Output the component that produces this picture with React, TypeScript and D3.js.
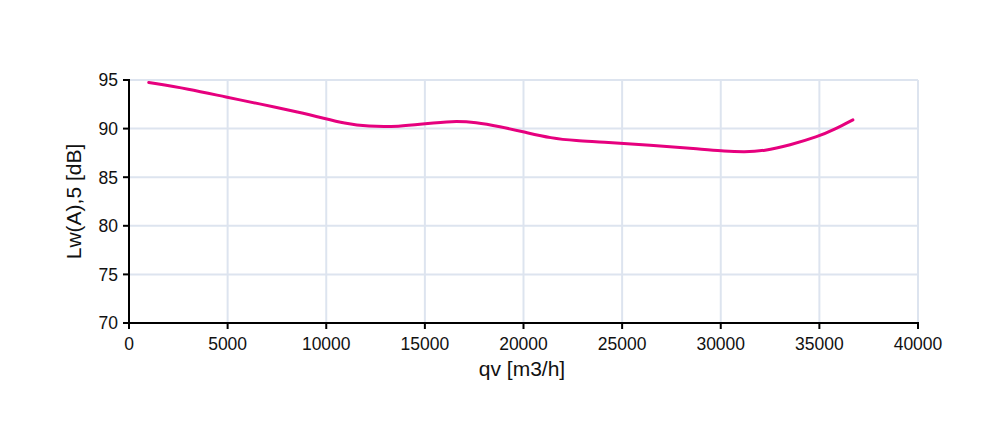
import React from "react";
import * as d3 from "d3";

const flowValues = [1000, 3000, 5000, 6500, 8700, 9900, 10900, 12100, 13700, 15000, 16400, 17600, 18800, 20000, 21400, 22700, 23900, 26400, 29000, 30200, 31200, 32200, 33500, 34900, 35800, 36700];
const soundValues = [94.75, 94.1, 93.2, 92.6, 91.65, 91.05, 90.55, 90.2, 90.2, 90.5, 90.78, 90.65, 90.2, 89.67, 89.0, 88.75, 88.64, 88.3, 87.9, 87.68, 87.6, 87.7, 88.3, 89.15, 89.95, 90.9];
const xTicks = [0, 5000, 10000, 15000, 20000, 25000, 30000, 35000, 40000];
const yTicks = [70, 75, 80, 85, 90, 95];
const xLabel = "qv [m3/h]";
const yLabel = "Lw(A),5 [dB]";

export default function App() {
  const W = 1000, H = 430;
  const left = 129, right = 918, top = 80, bottom = 323;
  const x = d3.scaleLinear().domain([0, 40000]).range([left, right]);
  const y = d3.scaleLinear().domain([70, 95]).range([bottom, top]);
  const pts: [number, number][] = flowValues.map((f, i) => [f, soundValues[i]]);
  const line = d3.line<[number, number]>().x(d => x(d[0])).y(d => y(d[1])).curve(d3.curveBasis);
  const font = "'Liberation Sans', Arial, sans-serif";
  const grid = "#dde4ef";
  return (
    <svg width={W} height={H} style={{ position: "absolute", left: 0, top: 0, background: "#fff" }}>
      {xTicks.slice(1).map(t => (
        <line key={"gx" + t} x1={x(t)} x2={x(t)} y1={top} y2={bottom} stroke={grid} strokeWidth={2} />
      ))}
      {yTicks.slice(1).map(t => (
        <line key={"gy" + t} x1={left} x2={right} y1={y(t)} y2={y(t)} stroke={grid} strokeWidth={2} />
      ))}
      <path d={line(pts) || ""} fill="none" stroke="#e6007e" strokeWidth={3} strokeLinecap="round" />
      <line x1={left} x2={left} y1={top - 1} y2={bottom + 1} stroke="#000" strokeWidth={2} />
      <line x1={left - 1} x2={right + 1} y1={bottom} y2={bottom} stroke="#000" strokeWidth={2} />
      {yTicks.map(t => (
        <g key={"ty" + t}>
          <line x1={left - 6} x2={left} y1={y(t)} y2={y(t)} stroke="#000" strokeWidth={2} />
          <text x={left - 11} y={y(t)} dy="0.36em" textAnchor="end" fontFamily={font} fontSize={17.5} fill="#111">{t}</text>
        </g>
      ))}
      {xTicks.map(t => (
        <g key={"tx" + t}>
          <line x1={x(t)} x2={x(t)} y1={bottom} y2={bottom + 6} stroke="#000" strokeWidth={2} />
          <text x={x(t)} y={bottom + 27} textAnchor="middle" fontFamily={font} fontSize={17.5} fill="#111">{t}</text>
        </g>
      ))}
      <text x={522} y={376} textAnchor="middle" fontFamily={font} fontSize={21} fill="#111">{xLabel}</text>
      <text transform={`translate(81,${(top + bottom) / 2}) rotate(-90)`} textAnchor="middle" fontFamily={font} fontSize={21} fill="#111">{yLabel}</text>
    </svg>
  );
}
